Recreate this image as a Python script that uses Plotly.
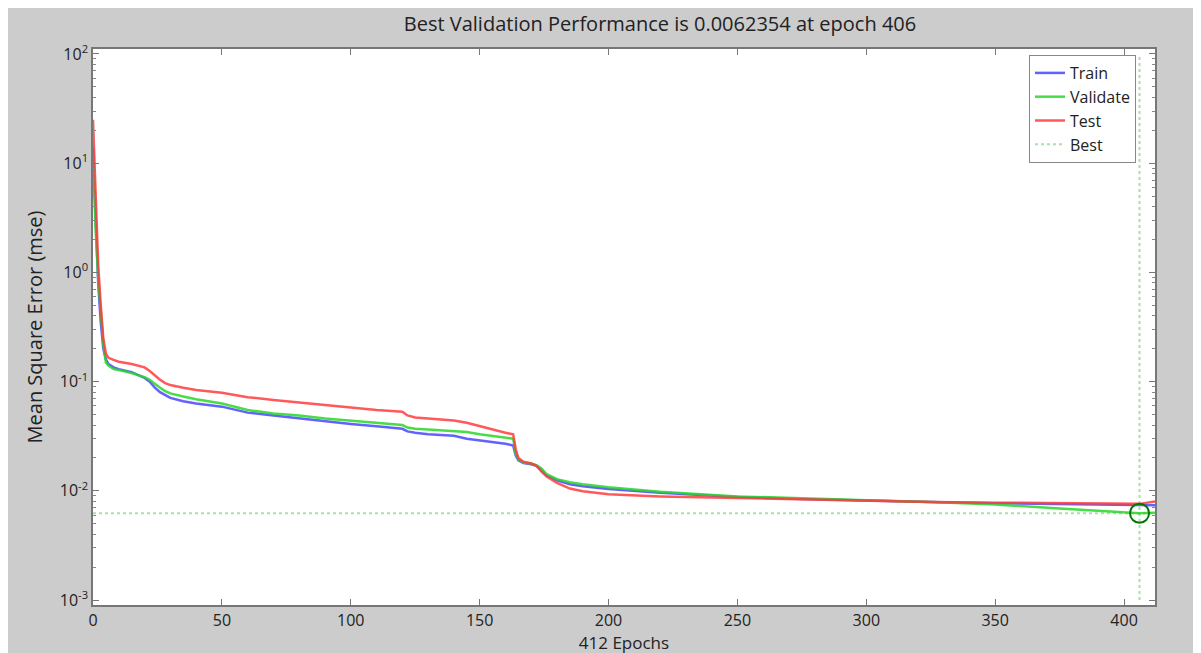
import plotly.graph_objects as go

epochs = [0, 1, 2, 3, 4, 5, 6, 8, 10, 15, 20, 22, 24, 26, 28, 30, 35, 40, 50, 60, 70, 80, 90,
          100, 110, 120, 122, 125, 130, 140, 145, 150, 160, 163, 164, 165, 167, 170, 172, 174,
          176, 180, 185, 190, 200, 220, 250, 275, 300, 325, 350, 375, 400, 406, 412]

train = [14, 3.0, 0.8, 0.35, 0.2, 0.16, 0.145, 0.135, 0.13, 0.122, 0.108, 0.1, 0.088, 0.08,
         0.075, 0.071, 0.066, 0.063, 0.059, 0.052, 0.049, 0.046, 0.043, 0.041, 0.039, 0.037,
         0.035, 0.034, 0.033, 0.032, 0.030, 0.029, 0.027, 0.026, 0.021, 0.019, 0.018, 0.0175,
         0.017, 0.0155, 0.0138, 0.0125, 0.0115, 0.011, 0.0104, 0.0096, 0.0088, 0.0084, 0.0081,
         0.0079, 0.0077, 0.0076, 0.0074, 0.0074, 0.0074]

validate = [12, 2.5, 0.9, 0.4, 0.22, 0.15, 0.14, 0.13, 0.128, 0.12, 0.11, 0.104, 0.095, 0.088,
            0.082, 0.078, 0.073, 0.069, 0.063, 0.055, 0.051, 0.049, 0.046, 0.044, 0.042, 0.040,
            0.038, 0.037, 0.0365, 0.0355, 0.0345, 0.033, 0.031, 0.030, 0.022, 0.0195, 0.0182,
            0.0178, 0.0172, 0.016, 0.0142, 0.0128, 0.012, 0.0115, 0.0108, 0.0098, 0.0089,
            0.0085, 0.0082, 0.0079, 0.0075, 0.0069, 0.0064, 0.0062354, 0.0063]

test = [25, 6, 1.2, 0.5, 0.25, 0.18, 0.165, 0.158, 0.152, 0.145, 0.135, 0.125, 0.113, 0.104,
        0.097, 0.093, 0.088, 0.084, 0.079, 0.072, 0.068, 0.064, 0.061, 0.058, 0.055, 0.053,
        0.049, 0.047, 0.046, 0.044, 0.042, 0.039, 0.034, 0.033, 0.024, 0.020, 0.0185, 0.0178,
        0.017, 0.015, 0.0135, 0.0118, 0.0105, 0.0099, 0.0093, 0.0089, 0.0086, 0.0083, 0.0081,
        0.0079, 0.0078, 0.0077, 0.0076, 0.0076, 0.008]

best_epoch = 406
best_value = 0.0062354
n_epochs = 412
y_min, y_max = 1e-3, 1e2

x_ticks = [0, 50, 100, 150, 200, 250, 300, 350, 400]
y_ticks = [1e-3, 1e-2, 1e-1, 1e0, 1e1, 1e2]
y_ticktext = ["10<sup>-3</sup>", "10<sup>-2</sup>", "10<sup>-1</sup>", "10<sup>0</sup>",
              "10<sup>1</sup>", "10<sup>2</sup>"]
minor_mult = [2, 3, 4, 5, 6, 7, 8, 9]
y_minor = [m * d for d in [1e-3, 1e-2, 1e-1, 1e0, 1e1] for m in minor_mult]

FONT = "Open Sans, Noto Sans, sans-serif"

fig = go.Figure()
fig.add_trace(go.Scatter(x=epochs, y=train, name="Train", mode="lines",
                         line=dict(color="rgba(70,70,255,0.85)", width=2.5)))
fig.add_trace(go.Scatter(x=epochs, y=validate, name="Validate", mode="lines",
                         line=dict(color="rgba(40,215,40,0.85)", width=2.5)))
fig.add_trace(go.Scatter(x=epochs, y=test, name="Test", mode="lines",
                         line=dict(color="rgba(255,60,60,0.85)", width=2.5)))
fig.add_trace(go.Scatter(x=[0, n_epochs, None, best_epoch, best_epoch],
                         y=[best_value, best_value, None, y_min, y_max],
                         name="Best", mode="lines",
                         line=dict(color="rgba(60,190,60,0.45)", width=2, dash="dot")))
fig.add_trace(go.Scatter(x=[best_epoch], y=[best_value], mode="markers", showlegend=False,
                         marker=dict(symbol="circle-open", size=19, color="rgb(0,120,0)",
                                     line=dict(color="rgb(0,120,0)", width=2))))
# invisible trace on overlay axis carrying minor ticks
fig.add_trace(go.Scatter(x=[None], y=[None], yaxis="y2", showlegend=False, hoverinfo="skip"))

W, H = 1201, 653
ml, mr, mt, mb = 85, 54, 41, 56
pw, ph = W - ml - mr, H - mt - mb

fig.update_layout(
    width=W, height=H,
    margin=dict(l=ml, r=mr, t=mt, b=mb),
    paper_bgcolor="#cccccc",
    plot_bgcolor="white",
    font=dict(family=FONT, size=16, color="#222222"),
    title=dict(text="Best Validation Performance is 0.0062354 at epoch 406",
               x=652 / W, xanchor="center", y=1 - 16 / H, yanchor="middle",
               font=dict(size=20, family=FONT, color="#222222")),
    xaxis=dict(range=[0, n_epochs], tickvals=x_ticks, ticks="inside", ticklen=6,
               tickcolor="#777777", showgrid=False, zeroline=False, showline=True,
               linecolor="#777777", linewidth=1.5, mirror="ticks", automargin=False,
               title=dict(text="412 Epochs", standoff=2, font=dict(size=17)),
               tickfont=dict(size=16)),
    yaxis=dict(type="log", range=[-3.045, 2.045], tickvals=y_ticks, ticktext=y_ticktext,
               ticks="inside", ticklen=6, tickcolor="#777777", showgrid=False,
               zeroline=False, showline=True, linecolor="#777777", linewidth=1.5,
               mirror="ticks", automargin=False,
               title=dict(text="Mean Square Error (mse)", standoff=12, font=dict(size=20)),
               tickfont=dict(size=16)),
    yaxis2=dict(type="log", range=[-3.045, 2.045], overlaying="y", side="left",
                tickvals=y_minor, showticklabels=False, ticks="inside", ticklen=3,
                tickcolor="#888888", showgrid=False, zeroline=False, showline=True,
                linecolor="#777777", linewidth=1.5, mirror="ticks", automargin=False),
    legend=dict(x=(1029 - 93) / pw, y=(605 - 55) / ph, xanchor="left", yanchor="top",
                bgcolor="white", bordercolor="#888888", borderwidth=1,
                font=dict(size=16, color="#222222"), tracegroupgap=0,
                itemwidth=30),
    showlegend=True,
)

fig.write_html("out.html")
